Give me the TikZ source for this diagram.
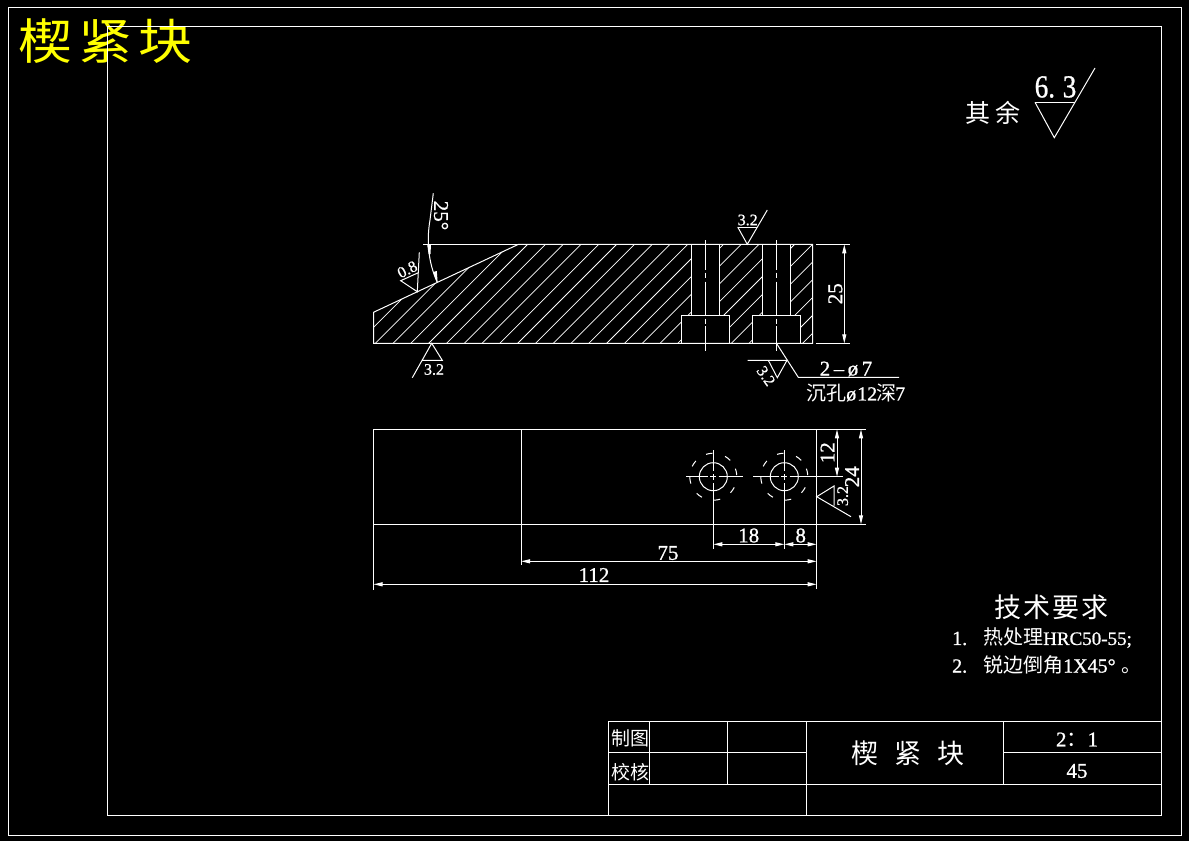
\documentclass[tikz,border=0pt]{standalone}
\usepackage{fontspec}
\setmainfont{Liberation Serif}[RawFeature={embolden=0.9}]
\newfontfamily\cjk{Noto Sans CJK SC}
\usetikzlibrary{arrows.meta}
\definecolor{titley}{RGB}{255,255,0}
\newcommand{\fsz}[1]{\fontsize{#1}{#1}\selectfont}
\tikzset{
  ln/.style={draw=white,line width=1pt},
  hatchline/.style={draw=white,line width=0.75pt},
  dimline/.style={draw=white,line width=1pt,{Stealth[length=9pt,width=4pt,inset=0pt]}-{Stealth[length=9pt,width=4pt,inset=0pt]}},
  dimtxt/.style={text=white,inner sep=0pt,font=\fsz{21}},
  smalltxt/.style={text=white,inner sep=0pt,font=\fsz{16}},
  txt/.style={text=white,inner sep=0pt},
}
\begin{document}
\begin{tikzpicture}[x=1pt,y=-1pt]
\useasboundingbox[fill=black] (0,0) rectangle (1189,841);
\node[text=titley,inner sep=0pt,font=\fsz{54}\cjk,yscale=0.9] (title) at (106,41.5) {楔\hspace{6pt}紧\hspace{6pt}块};
% frames
\draw[ln] (8,7) rectangle (1181,835);
\draw[ln] (107,26) rectangle (1161,815);
% section view hatch
\begin{scope}
\clip (373.5,312.3) -- (518.5,244.3) -- (812.7,244.3) -- (812.7,343.3) -- (373.5,343.3) -- cycle;
\foreach \k in {-5,...,22} {
  \pgfmathsetmacro{\c}{772+17.8*\k}
  \draw[hatchline] (\c-230,230) -- (\c-360,360);
}
\end{scope}
% holes
\foreach \a/\b/\c/\d in {691.7/719.3/681.3/729.3,762.3/790.3/752.3/800.3} {
  \fill[black] (\a,244.3) rectangle (\b,343.3);
  \fill[black] (\c,315.3) rectangle (\d,343.3);
  \draw[ln] (\a,244.3) -- (\a,315.3);
  \draw[ln] (\b,244.3) -- (\b,315.3);
  \draw[ln] (\c,343.3) -- (\c,315.3) -- (\d,315.3) -- (\d,343.3);
}
\draw[ln] (373.5,312.3) -- (518.5,244.3) -- (812.7,244.3) -- (812.7,343.3) -- (373.5,343.3) -- cycle;
\draw[ln] (423,244.3) -- (518.5,244.3);
% center lines section
\foreach \x in {705.5,776.5} {
  \draw[ln] (\x,240) -- (\x,270);
  \draw[ln] (\x,272.7) -- (\x,278.3);
  \draw[ln] (\x,281.7) -- (\x,316);
  \draw[ln] (\x,318.5) -- (\x,323.5);
  \draw[ln] (\x,326) -- (\x,351);
}
% dim 25 section
\coordinate (e1a) at (816,244.3); \coordinate (e1b) at (850,244.3);
\coordinate (e2a) at (816,343.3); \coordinate (e2b) at (850,343.3);
\draw[ln] (e1a) -- (e1b);
\draw[ln] (e2a) -- (e2b);
\coordinate (d25a) at (844.3,244.3); \coordinate (d25b) at (844.3,343.3);
\draw[dimline] (d25a) -- (d25b);
\node[dimtxt,rotate=90] (t25) at (835.3,293.7) {25};
% angle 25
\draw[ln] (433.3,193.3) -- (430,220) .. controls (426.5,240) and (428,262) .. (437.3,282.3);
\fill[white] (427.2,244.5) -- (431,244.5) -- (430.5,254) -- (428.6,254) -- cycle;
\fill[white] (433.2,272) -- (436.8,271) -- (437.6,282) -- (436.6,282) -- cycle;
\node[txt,rotate=-90,font=\fsz{21}] (tang) at (441,215.5) {25°};
% roughness 0.8
\draw[ln] (419.3,252.3) -- (417.3,291.7) -- (400.7,280.7) -- (418.3,272.7);
\node[smalltxt,rotate=27] (r08) at (407.3,269.5) {0.8};
% roughness 3.2 bottom
\draw[ln] (412.3,377.7) -- (431.7,343.3) -- (442.3,360.3) -- (422.7,360.3);
\node[smalltxt] (r32a) at (434,369.5) {3.2};
% roughness 3.2 top
\draw[ln] (737.7,227) -- (747.3,244.3) -- (767.3,210);
\draw[ln] (737.7,227) -- (757,227);
\node[smalltxt] (r32b) at (747.7,220) {3.2};
% leader
\draw[ln] (776.7,343.7) -- (798.3,377.3) -- (899,377.3);
\node[txt,font=\fsz{21}] (hole1) at (846,369) {2\,–\,ø\,7};
\node[txt,font=\fsz{20},anchor=west] (hole2) at (806,393) {{\cjk 沉孔}ø\hspace{1pt}12\hspace{-1pt}{\cjk 深}\hspace{-1pt}7};
% roughness lower
\draw[ln] (747.7,360.3) -- (787,360.3) -- (777.3,377.7) -- (768.3,360.3);
\node[smalltxt,rotate=-55] (r32c) at (766,376) {3.2};
% plan view
\draw[ln] (373.5,429.3) rectangle (816.7,524.3);
\draw[ln] (521,429.3) -- (521,565);
\draw[ln] (373.5,524.3) -- (373.5,590);
\draw[ln] (816.7,524.3) -- (816.7,589.3);
\draw[ln] (816.7,429.3) -- (866,429.3);
\draw[ln] (816.7,524.3) -- (866,524.3);
% holes plan
\foreach \cx in {713.3,784.3} {
  \draw[ln] (\cx,476.7) circle[radius=14];
  \foreach \a in {100,52,12,-35,-81,-127,-171,146} {
    \draw[ln] (\cx,476.7) ++(-\a-8:23.5) arc[start angle=-\a-8,end angle=-\a+8,radius=23.5];
  }
  \draw[ln] (\cx,450) -- (\cx,471);
  \draw[ln] (\cx,474) -- (\cx,479.5);
  \draw[ln] (\cx,483) -- (\cx,549.3);
  \draw[ln] (\cx-3,476.7) -- (\cx+2.5,476.7);
}
\draw[ln] (686,476.7) -- (708,476.7);
\draw[ln] (718.5,476.7) -- (742.7,476.7);
\draw[ln] (753,476.7) -- (779,476.7);
\draw[ln] (789.5,476.7) -- (842.7,476.7);
% dims plan
\coordinate (d12a) at (837,429.3); \coordinate (d12b) at (837,476.7);
\draw[dimline] (d12a) -- (d12b);
\node[dimtxt,rotate=90] (t12) at (827.5,452.7) {12};
\coordinate (d24a) at (861,429.3); \coordinate (d24b) at (861,524.3);
\draw[dimline] (d24a) -- (d24b);
\node[dimtxt,rotate=90] (t24) at (852,476.7) {24};
\draw[ln] (851,516.7) -- (816.7,496.7) -- (834,486) -- (834,505.7);
\node[smalltxt,rotate=90] (r32d) at (842.7,496) {3.2};
\coordinate (d18a) at (713.3,544.3); \coordinate (d18b) at (784.3,544.3); \coordinate (d8b) at (816.7,544.3);
\draw[dimline] (d18a) -- (d18b);
\draw[dimline] (d18b) -- (d8b);
\node[dimtxt] (t18) at (748.7,535.5) {18};
\node[dimtxt] (t8) at (800.7,535.5) {8};
\coordinate (d75a) at (521,561.3); \coordinate (d75b) at (816.7,561.3);
\draw[dimline] (d75a) -- (d75b);
\node[dimtxt] (t75) at (668,553) {75};
\coordinate (d112a) at (373.5,584.3); \coordinate (d112b) at (816.7,584.3);
\draw[dimline] (d112a) -- (d112b);
\node[dimtxt] (t112) at (594,575) {112};
% surface note
\node[txt,font=\fsz{25}\cjk] (qy) at (992.5,113) {其\hspace{5pt}余};
\node[txt,font=\fsz{32},xscale=0.85] (r63) at (1055.5,87) {6.\hspace{9pt}3};
\draw[ln] (1035,102.3) -- (1075,102.3);
\draw[ln] (1035,102.3) -- (1054.3,137.7) -- (1095,68);
% tech
\node[txt,font=\fsz{27}\cjk] (jsyq) at (1051,607) {技\hspace{2pt}术\hspace{2pt}要\hspace{2pt}求};
\node[txt,font=\fsz{19},anchor=west] (l1) at (952,638) {\makebox[31pt][l]{\fsz{20}1.}{\cjk\fsz{20}热处理}HRC50-55;};
\node[txt,font=\fsz{20},anchor=west] (l2) at (952,665) {\makebox[31pt][l]{2.}{\cjk 锐边倒角}1X45°\hspace{6pt}{\cjk 。}};
% title block
\draw[ln] (608,721.7) rectangle (1161,815.3);
\draw[ln] (608,752.3) -- (806,752.3);
\draw[ln] (1003,752.3) -- (1161,752.3);
\draw[ln] (608,784.3) -- (1161,784.3);
\draw[ln] (649,721.7) -- (649,784.3);
\draw[ln] (727.5,721.7) -- (727.5,784.3);
\draw[ln] (806.5,721.7) -- (806.5,815.3);
\draw[ln] (1003.5,721.7) -- (1003.5,784.3);
\node[txt,font=\fsz{19}\cjk] (zt) at (630,738) {制图};
\node[txt,font=\fsz{19}\cjk] (xh) at (630,772) {校核};
\node[txt,font=\fsz{27}\cjk] (name) at (908,753) {楔\hspace{16pt}紧\hspace{16pt}块};
\node[txt,font=\fsz{21}] (scale) at (1077,739.5) {2{\cjk ：}1};
\node[txt,font=\fsz{21}] (mat) at (1077,771) {45};
\end{tikzpicture}
\end{document}
